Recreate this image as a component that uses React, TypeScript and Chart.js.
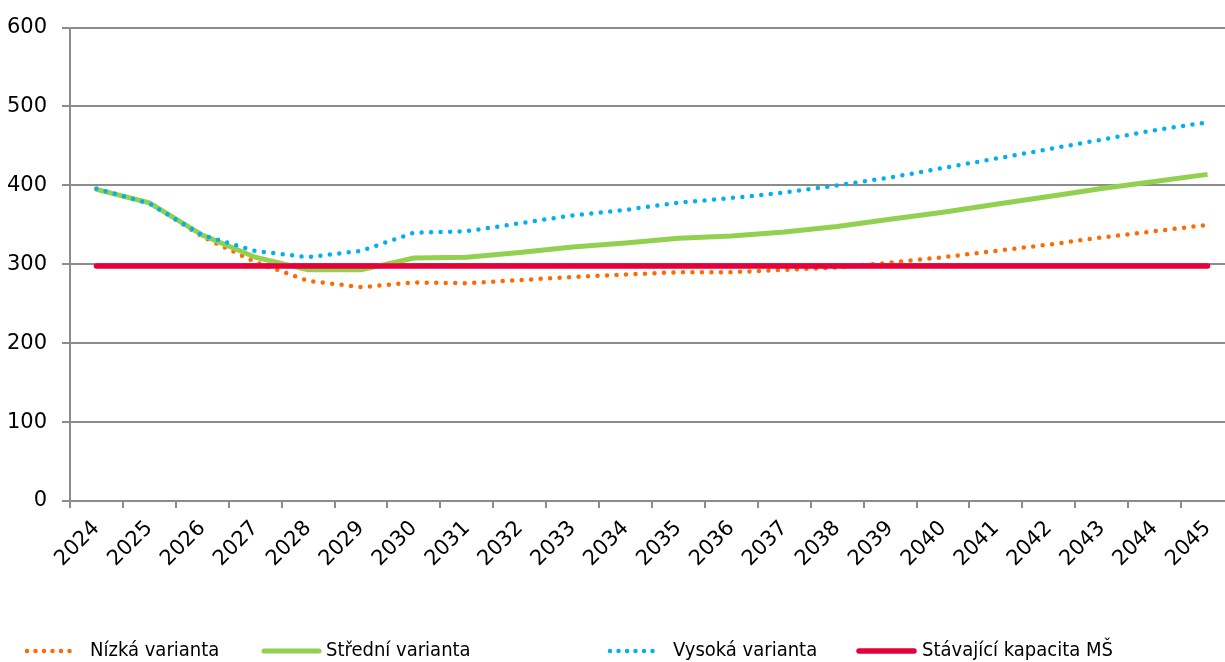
import React, { useEffect, useRef } from "react";
import { Chart, registerables } from "chart.js";

Chart.register(...registerables);

const YEARS = ["2024", "2025", "2026", "2027", "2028", "2029", "2030", "2031", "2032", "2033", "2034", "2035", "2036", "2037", "2038", "2039", "2040", "2041", "2042", "2043", "2044", "2045"];
const LOW = [395, 378, 335, 303, 279, 271, 277, 276, 280, 284, 287, 290, 290, 293, 296, 302, 309, 317, 325, 334, 342, 350];
const MID = [395, 378, 337, 309, 293, 293, 308, 309, 315, 322, 327, 333, 336, 341, 348, 357, 366, 376, 386, 396, 405, 414];
const HIGH = [396, 377, 337, 317, 309, 317, 340, 342, 352, 362, 369, 378, 384, 391, 400, 410, 422, 434, 446, 458, 470, 480];
const CAPACITY = [298, 298, 298, 298, 298, 298, 298, 298, 298, 298, 298, 298, 298, 298, 298, 298, 298, 298, 298, 298, 298, 298];
const SERIES_LABELS = ["Nízká varianta", "Střední varianta", "Vysoká varianta", "Stávající kapacita MŠ"];
const Y_TICKS = [0, 100, 200, 300, 400, 500, 600];

const FONT = "'DejaVu Sans', Verdana, sans-serif";
const LEGEND_FONT = "'DejaVu Sans Condensed', 'DejaVu Sans', Verdana, sans-serif";
const GRID = "#8c8c8c";

const LEGEND_ITEMS = [
  { x: 27, len: 51, textX: 90 },
  { x: 264, len: 55, textX: 326 },
  { x: 610, len: 50, textX: 673 },
  { x: 859, len: 55, textX: 922 },
];
const LEGEND_Y = 651;

const legendPlugin = {
  id: "customLegend",
  afterDraw(chart: any) {
    const ctx = chart.ctx;
    const ds = chart.data.datasets;
    ctx.save();
    ctx.font = `20px ${LEGEND_FONT}`;
    ctx.textBaseline = "middle";
    ctx.textAlign = "left";
    LEGEND_ITEMS.forEach((it, i) => {
      const d = ds[i];
      ctx.beginPath();
      ctx.strokeStyle = d.borderColor;
      ctx.lineWidth = d.borderWidth;
      ctx.lineCap = "round";
      ctx.setLineDash(d.borderDash ? [0, 8.5] : []);
      ctx.moveTo(it.x, LEGEND_Y);
      ctx.lineTo(it.x + it.len, LEGEND_Y);
      ctx.stroke();
      ctx.setLineDash([]);
      ctx.fillStyle = "#000";
      ctx.fillText(d.label, it.textX, LEGEND_Y);
    });
    ctx.restore();
  },
};

export default function App() {
  const ref = useRef<HTMLCanvasElement | null>(null);

  useEffect(() => {
    if (!ref.current) return;
    const chart = new Chart(ref.current, {
      type: "line",
      data: {
        labels: YEARS,
        datasets: [
          {
            label: SERIES_LABELS[0],
            data: LOW,
            borderColor: "#ff6a00",
            borderWidth: 4.5,
            borderDash: [0, 9.5],
            borderCapStyle: "round",
            pointRadius: 0,
            tension: 0,
            order: 3,
          },
          {
            label: SERIES_LABELS[1],
            data: MID,
            borderColor: "#92d050",
            borderWidth: 5,
            pointRadius: 0,
            tension: 0,
            order: 2,
          },
          {
            label: SERIES_LABELS[2],
            data: HIGH,
            borderColor: "#00b0f0",
            borderWidth: 4.5,
            borderDash: [0, 9.5],
            borderCapStyle: "round",
            pointRadius: 0,
            tension: 0,
            order: 1,
          },
          {
            label: SERIES_LABELS[3],
            data: CAPACITY,
            borderColor: "#e4003b",
            borderWidth: 5.5,
            borderCapStyle: "round",
            pointRadius: 0,
            tension: 0,
            order: 0,
          },
        ],
      },
      options: {
        responsive: false,
        animation: false,
        devicePixelRatio: 1,
        layout: { autoPadding: false, padding: { top: 24, left: 0, right: 0, bottom: 0 } },
        plugins: {
          legend: { display: false },
          tooltip: { enabled: false },
          title: { display: false },
        },
        scales: {
          x: {
            type: "category",
            offset: true,
            grid: {
              display: true,
              drawOnChartArea: false,
              drawTicks: true,
              tickLength: 7,
              color: GRID,
              lineWidth: 2,
              offset: true,
            },
            border: { display: true, color: GRID, width: 2 },
            ticks: {
              autoSkip: false,
              maxRotation: 45,
              minRotation: 45,
              padding: 8,
              color: "#000",
              font: { family: FONT, size: 21 },
            },
            afterFit(scale: any) {
              scale.height = 161;
            },
          },
          y: {
            min: 0,
            max: 600,
            afterBuildTicks(scale: any) {
              scale.ticks = Y_TICKS.map((v) => ({ value: v }));
            },
            grid: {
              color: GRID,
              lineWidth: 2,
              tickLength: 8,
              drawTicks: true,
            },
            border: { display: true, color: GRID, width: 2 },
            ticks: {
              padding: 15,
              color: "#000",
              font: { family: FONT, size: 21 },
            },
            afterFit(scale: any) {
              scale.width = 70;
            },
          },
        },
      },
      plugins: [legendPlugin],
    });
    return () => chart.destroy();
  }, []);

  return (
    <div
      style={{
        position: "fixed",
        left: 0,
        top: 0,
        width: 1225,
        height: 662,
        overflow: "hidden",
        background: "#fff",
      }}
    >
      <canvas ref={ref} width={1234} height={662} style={{ display: "block" }} />
    </div>
  );
}
